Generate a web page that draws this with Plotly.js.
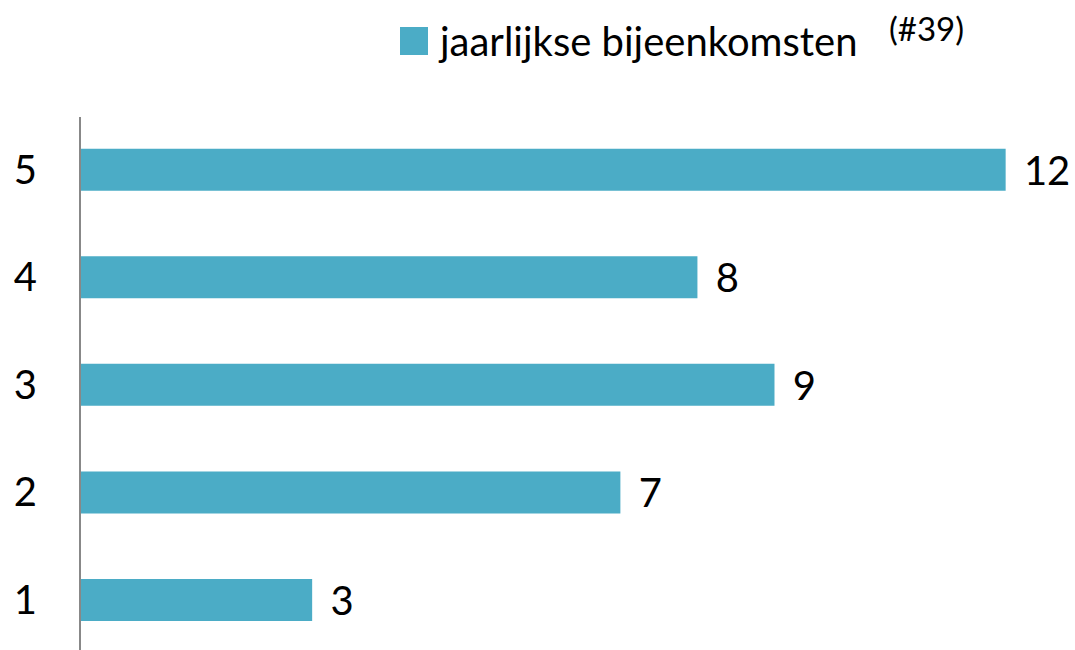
<!DOCTYPE html>
<html><head><meta charset="utf-8">
<script src="https://cdn.plot.ly/plotly-3.0.1.min.js"></script>
<style>html,body{margin:0;padding:0;background:#fff;}#chart{width:1075px;height:650px;}</style>
</head><body><div id="chart"></div>
<script>
const categories = [1, 2, 3, 4, 5];
const values = [3, 7, 9, 8, 12];
const seriesName = 'jaarlijkse bijeenkomsten';
const seriesNote = '(#39)';

const FONT = 'Lato, "Open Sans", sans-serif';
const BAR = '#4BACC6';

const trace = {
  type: 'bar', orientation: 'h',
  x: values, y: categories,
  name: seriesName,
  marker: {color: BAR},
  width: 0.39,
  text: values.map(String),
  texttemplate: '\u00a0\u2009%{text}',
  textposition: 'outside',
  constraintext: 'none',
  cliponaxis: false,
  textfont: {family: FONT, size: 40, color: '#000'},
  hoverinfo: 'none',
  showlegend: false
};

const layout = {
  width: 1075, height: 650,
  margin: {l: 81, r: 0, t: 117, b: 0, pad: 0},
  paper_bgcolor: '#fff', plot_bgcolor: '#fff',
  font: {family: FONT, size: 40, color: '#000'},
  xaxis: {range: [0, 12.9], visible: false, fixedrange: true},
  yaxis: {
    range: [0.535, 5.49], tickvals: categories, ticktext: categories.map(String),
    showline: true, linecolor: '#888', linewidth: 2, showgrid: false, zeroline: false,
    ticks: '', ticklabelstandoff: 34, tickfont: {family: FONT, size: 40, color: '#000'}
  },
  shapes: [{
    type: 'rect', xref: 'paper', yref: 'paper',
    x0: (400 - 81) / 994, x1: (428 - 81) / 994,
    y0: (650 - 55) / 533, y1: (650 - 27) / 533,
    fillcolor: BAR, line: {width: 0}
  }],
  annotations: [{
    xref: 'paper', yref: 'paper', x: (436 - 81) / 994, y: (650 - 41) / 533,
    xanchor: 'left', yanchor: 'middle', showarrow: false,
    text: seriesName,
    font: {family: FONT, size: 40, color: '#000'}
  }, {
    xref: 'paper', yref: 'paper', x: (887 - 81) / 994, y: (650 - 28) / 533,
    xanchor: 'left', yanchor: 'middle', showarrow: false,
    text: seriesNote,
    font: {family: FONT, size: 33, color: '#000'}
  }]
};

Plotly.newPlot('chart', [trace], layout, {staticPlot: true, displayModeBar: false});
</script></body></html>
